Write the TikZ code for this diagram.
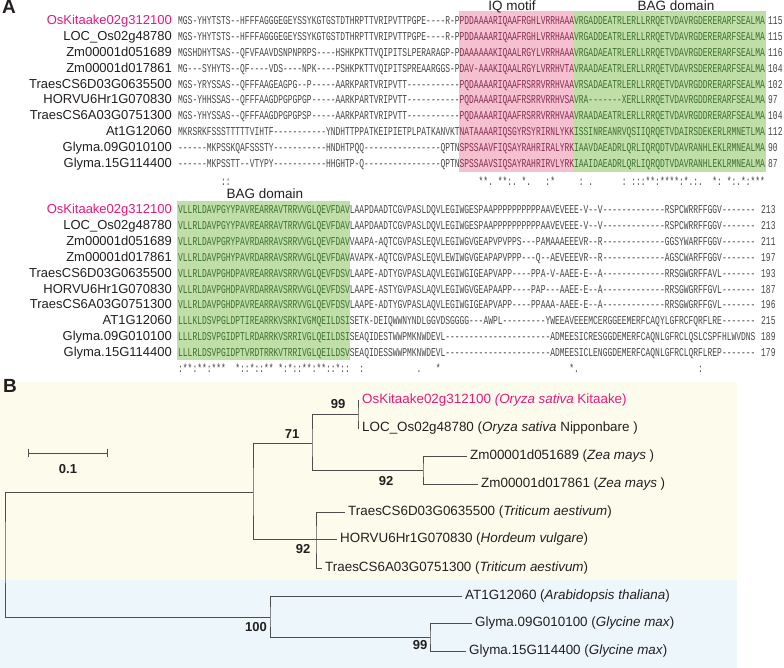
\documentclass[tikz,border=0pt]{standalone}
\usepackage{fontspec}
\setmainfont{Liberation Sans}
\newfontfamily\seqfont[FakeStretch=0.6625]{Liberation Mono}
\usetikzlibrary{arrows.meta}

\definecolor{kitaake}{HTML}{E6197E}
\definecolor{inkgray}{HTML}{231F20}
\definecolor{seqgray}{HTML}{474747}
\definecolor{iqtext}{HTML}{862F52}
\definecolor{bagtext}{HTML}{3F7030}
\definecolor{iqfill}{HTML}{F5C0D0}
\definecolor{bagfill}{HTML}{BFDEA8}
\definecolor{cream}{HTML}{FDFCEC}
\definecolor{skyfill}{HTML}{EDF6FB}
\definecolor{treeline}{HTML}{4D4D4D}

\newcommand\cw{4.77}
\newcommand\iq[1]{\textcolor{iqtext}{#1}}
\newcommand\bag[1]{\textcolor{bagtext}{#1}}
\newcommand\gapfill{\spaceskip=\fontcharwd\font`\*\relax}

\begin{document}
\begin{tikzpicture}[x=1pt,y=-1pt,
  genename/.style={anchor=base east,inner sep=0pt,font=\fontsize{13}{15}\selectfont,text=inkgray},
  seqtext/.style={anchor=base west,inner sep=0pt,font=\fontsize{12}{12}\seqfont,text=seqgray},
  domainname/.style={anchor=base,inner sep=0pt,font=\fontsize{13.5}{15}\selectfont,text=inkgray},
  panel/.style={anchor=base west,inner sep=0pt,font=\fontsize{19}{21}\selectfont\bfseries,text=inkgray},
  leaf/.style={anchor=west,inner sep=3pt,font=\fontsize{13.4}{15}\selectfont,text=inkgray},
  boot/.style={inner sep=0pt,font=\fontsize{13}{15}\selectfont\bfseries,text=inkgray},
  branch/.style={draw=treeline,line width=0.9pt}]
\useasboundingbox (0,0) rectangle (784,668);
\fill[white] (0,0) rectangle (784,668);

\fill[iqfill] ({178+59*\cw},11) rectangle ({178+83*\cw},172);
\fill[bagfill] ({178+83*\cw},11) rectangle ({178+123*\cw+1},172);
\fill[bagfill] (177,201) rectangle ({178+36*\cw},360);
\fill[cream] (0,382) rectangle (737,580);
\fill[skyfill] (0,580) rectangle (737,668);

\node[panel] (pa) at (2,14) {A};
\node[domainname] (iqm) at (512,11) {IQ motif};
\node[domainname] (bag1) at (676,11) {BAG domain};

\node[genename,text=kitaake] (na1) at (172,25.0) {OsKitaake02g312100};
\node[genename] (na2) at (172,40.8) {LOC\_Os02g48780};
\node[genename] (na3) at (172,56.6) {Zm00001d051689};
\node[genename] (na4) at (172,72.4) {Zm00001d017861};
\node[genename] (na5) at (172,88.2) {TraesCS6D03G0635500};
\node[genename] (na6) at (172,104.0) {HORVU6Hr1G070830};
\node[genename] (na7) at (172,119.8) {TraesCS6A03G0751300};
\node[genename] (na8) at (172,135.6) {At1G12060};
\node[genename] (na9) at (172,151.4) {Glyma.09G010100};
\node[genename] (na10) at (172,167.2) {Glyma.15G114400};

\node[seqtext] (sa1) at (178,25.0) {MGS-YHYTSTS--HFFFAGGGEGEYSSYKGTGSTDTHRPTTVRIPVTTPGPE----R-P\iq{PDDAAAARIQAAFRGHLVRRHAAA}\bag{VRGADDEATRLERLLRRQETVDAVRGDERERARFSEALMA}};
\node[seqtext] (sa2) at (178,40.8) {MGS-YHYTSTS--HFFFAGGGEGEYSSYKGTGSTDTHRPTTVRIPVTTPGPE----R-P\iq{PDDAAAARIQAAFRGHLVRRHAAA}\bag{VRGADDEATRLERLLRRQETVDAVRGDERERARFSEALMA}};
\node[seqtext] (sa3) at (178,56.6) {MGSHDHYTSAS--QFVFAAVDSNPNPRPS----HSHKPKTTVQIPITSLPERARAGP-P\iq{DAAAAAAKIQAALRGYLVRRHAAA}\bag{VRGADAEATRLERLLRRQETVDAVRGDERERARFSEALMA}};
\node[seqtext] (sa4) at (178,72.4) {MG---SYHYTS--QF----VDS----NPK----PSHKPKTTVQIPITSPREAARGGS-P\iq{DAV-AAAKIQAALRGYLVRRHVTA}\bag{VRAADAEATRLERLLRRQETVDAVRSDERERARFSEALMA}};
\node[seqtext] (sa5) at (178,88.2) {MGS-YRYSSAS--QFFFAAGEAGPG--P-----AARKPARTVRIPVTT-----------\iq{PQDAAAARIQAAFRSRRVRRHVAA}\bag{VRSADAEATRLERLLRRQETVDAVRGDDRERARFSEALMA}};
\node[seqtext] (sa6) at (178,104.0) {MGS-YHHSSAS--QFFFAAGDPGPGPGP-----AARKPARTVRIPVTT-----------\iq{PQDAAAARIQAAFRSRRVRRHVSA}\bag{VRA-------XERLLRRQETVDAVRGDDRERARFSEALMA}};
\node[seqtext] (sa7) at (178,119.8) {MGS-YHYSSAS--QFFFAAGDPGPGPSP-----AARKPARTVRIPVTT-----------\iq{PQDAAAARIQAAFRSRRVRRHVAA}\bag{VRAADAEATRLERLLRRQETVDAVRGDDRERARFSEALMA}};
\node[seqtext] (sa8) at (178,135.6) {MKRSRKFSSSTTTTTVIHTF-----------YNDHTTPPATKEIPIETPLPATKANVKT\iq{NATAAAARIQSGYRSYRIRNLYKK}\bag{ISSINREANRVQSIIQRQETVDAIRSDEKERLRMNETLMA}};
\node[seqtext] (sa9) at (178,151.4) {------MKPSSKQAFSSSTY-----------HNDHTPQQ----------------QPTN\iq{SPSSAAVFIQSAYRAHRIRALYRK}\bag{IAAVDAEADRLQRLIQRQDTVDAVRANHLEKLRMNEALMA}};
\node[seqtext] (sa10) at (178,167.2) {------MKPSSTT--VTYPY-----------HHGHTP-Q----------------QPTN\iq{SPSSAAVSIQSAYRAHRIRVLYRK}\bag{IAAIDAEADRLQRLIQRQDTVDAVRANHLEKLRMNEALMA}};

\node[seqtext] (la1) at (768,25.0) {115};
\node[seqtext] (la2) at (768,40.8) {115};
\node[seqtext] (la3) at (768,56.6) {116};
\node[seqtext] (la4) at (768,72.4) {104};
\node[seqtext] (la5) at (768,88.2) {102};
\node[seqtext] (la6) at (768,104.0) {97};
\node[seqtext] (la7) at (768,119.8) {104};
\node[seqtext] (la8) at (768,135.6) {112};
\node[seqtext] (la9) at (768,151.4) {90};
\node[seqtext] (la10) at (768,167.2) {87};

\node[seqtext] (c1a) at ({178+9*\cw},186) {::};
\node[seqtext] (c1b) at ({178+63*\cw},186) {\gapfill **.~**:.~*.~~~:*~~~~~:~.~~~~~~:~:::**:****:*.:.~~*:~*:.*:***};

\node[domainname] (bag2) at (265,199) {BAG domain};

\node[genename,text=kitaake] (nb1) at (172,213.5) {OsKitaake02g312100};
\node[genename] (nb2) at (172,229.4) {LOC\_Os02g48780};
\node[genename] (nb3) at (172,245.3) {Zm00001d051689};
\node[genename] (nb4) at (172,261.2) {Zm00001d017861};
\node[genename] (nb5) at (172,277.1) {TraesCS6D03G0635500};
\node[genename] (nb6) at (172,293.0) {HORVU6Hr1G070830};
\node[genename] (nb7) at (172,308.9) {TraesCS6A03G0751300};
\node[genename] (nb8) at (172,324.8) {AT1G12060};
\node[genename] (nb9) at (172,340.7) {Glyma.09G010100};
\node[genename] (nb10) at (172,356.6) {Glyma.15G114400};

\node[seqtext] (sb1) at (178,213.5) {\bag{VLLRLDAVPGYYPAVREARRAVTRRVVGLQEVFDAV}LAAPDAADTCGVPASLDQVLEGIWGESPAAPPPPPPPPPPAAVEVEEE-V--V-------------RSPCWRRFFGGV-------};
\node[seqtext] (sb2) at (178,229.4) {\bag{VLLRLDAVPGYYPAVREARRAVTRRVVGLQEVFDAV}LAAPDAADTCGVPASLDQVLEGIWGESPAAPPPPPPPPPPAAVEVEEE-V--V-------------RSPCWRRFFGGV-------};
\node[seqtext] (sb3) at (178,245.3) {\bag{VLLRLDAVPGRYPAVRDARRAVSRRVVGLQEVFDAV}VAAPA-AQTCGVPASLEQVLEGIWGVGEAPVPVPPS---PAMAAAEEEVR--R-------------GGSYWARFFGGV-------};
\node[seqtext] (sb4) at (178,261.2) {\bag{VLLRLDAVPGHYPAVRDARRAVSRRVVGLQEVFDAV}AVAPK-AQTCGVPASLEQVLEWIWGVGEAPAPVPPP---Q--AEVEEEVR--R-------------AGSCWARFFGGV-------};
\node[seqtext] (sb5) at (178,277.1) {\bag{VLLRLDAVPGHDPAVREARRAVSRRVVGLQEVFDSV}LAAPE-ADTYGVPASLAQVLEGIWGIGEAPVAPP----PPA-V-AAEE-E--A-------------RRSGWGRFFAVL-------};
\node[seqtext] (sb6) at (178,293.0) {\bag{VLLRLDAVPGHDPAVRDARRAVSRRVVGLQEVFDSV}LAAPE-ASTYGVPASLAQVLEGIWGVGEAPAAPP----PAP---AAEE-E--A-------------RRSGWGRFFGVL-------};
\node[seqtext] (sb7) at (178,308.9) {\bag{VLLRLDAVPGHDPAVREARRAVSRRVVGLQEVFDSV}LAAPE-ADTYGVPASLAQVLEGIWGIGEAPVAPP----PPAAA-AAEE-E--A-------------RRSGWGRFFGVL-------};
\node[seqtext] (sb8) at (178,324.8) {\bag{LLLKLDSVPGLDPTIREARRKVSRKIVGMQEILDSI}SETK-DEIQWWNYNDLGGVDSGGGG---AWPL---------YWEEAVEEEMCERGGEEMERFCAQYLGFRCFQRFLRE-------};
\node[seqtext] (sb9) at (178,340.7) {\bag{LLLRLDSVPGIDPTLRDARRKVSRRIVGLQEILDSI}SEAQIDESTWWPMKNWDEVL----------------------ADMEESICRESGGDEMERFCAQNLGFRCLQSLCSPFHLWVDNS};
\node[seqtext] (sb10) at (178,356.6) {\bag{LLLRLDSVPGIDPTVRDTRRKVTRRIVGLQEILDSV}SEAQIDESSWWPMKNWDEVL----------------------ADMEESICLENGGDEMERFCAQNLGFRCLQRFLREP-------};

\node[seqtext] (lb1) at (761,213.5) {213};
\node[seqtext] (lb2) at (761,229.4) {213};
\node[seqtext] (lb3) at (761,245.3) {211};
\node[seqtext] (lb4) at (761,261.2) {197};
\node[seqtext] (lb5) at (761,277.1) {193};
\node[seqtext] (lb6) at (761,293.0) {187};
\node[seqtext] (lb7) at (761,308.9) {196};
\node[seqtext] (lb8) at (761,324.8) {215};
\node[seqtext] (lb9) at (761,340.7) {189};
\node[seqtext] (lb10) at (761,356.6) {179};

\node[seqtext] (c2a) at (178,372) {\gapfill :**:**:***~~*::*::**~*:*::**:**::*::~~:};
\node[seqtext] (c2b) at ({178+50*\cw},372) {.};
\node[seqtext] (c2c) at ({178+54*\cw},372) {*};
\node[seqtext] (c2d) at ({178+82*\cw},372) {*.};
\node[seqtext] (c2e) at ({178+109*\cw},372) {:};

\node[panel] (pb) at (3,392) {B};

\coordinate (sl) at (28,453);
\coordinate (sr) at (108,453);
\draw[branch,{Bar[width=8pt]}-{Bar[width=8pt]}] (sl) -- (sr);
\node[boot] (scale) at (68,469) {0.1};

\node[leaf,text=kitaake] (os) at (359,400) {OsKitaake02g312100 \textit{(Oryza sativa} Kitaake)};
\node[leaf] (loc) at (359,428) {LOC\_Os02g48780 (\textit{Oryza sativa} Nipponbare )};
\node[leaf] (zma) at (467,456) {Zm00001d051689 (\textit{Zea mays} )};
\node[leaf] (zmb) at (478,484) {Zm00001d017861 (\textit{Zea mays} )};
\node[leaf] (tad) at (345,512) {TraesCS6D03G0635500 (\textit{Triticum aestivum})};
\node[leaf] (hv) at (337,539) {HORVU6Hr1G070830 (\textit{Hordeum vulgare})};
\node[leaf] (taa) at (322,568) {TraesCS6A03G0751300 (\textit{Triticum aestivum})};
\node[leaf] (at) at (462,596) {AT1G12060 (\textit{Arabidopsis thaliana})};
\node[leaf] (gma) at (472,623) {Glyma.09G010100 (\textit{Glycine max})};
\node[leaf] (gmb) at (466,651) {Glyma.15G114400 (\textit{Glycine max})};

\coordinate (n99) at (358,414);
\coordinate (n71) at (312,443);
\coordinate (nz) at (423,470);
\coordinate (ny) at (253,492);
\coordinate (nt) at (316,539);
\coordinate (nb) at (270,617);
\coordinate (ng) at (430,637);
\coordinate (root) at (5,550);

\draw[branch] (os.west) -| (n99) |- (loc.west);
\draw[branch] (n99) -| (n71) |- (nz);
\draw[branch] (zma.west) -| (nz) |- (zmb.west);
\draw[branch] (n71) -| (ny) |- (nt);
\draw[branch] (tad.west) -| (nt) |- (taa.west);
\draw[branch] (nt) -- (hv.west);
\draw[branch] (ny) -| (root) |- (nb);
\draw[branch] (at.west) -| (nb) |- (ng);
\draw[branch] (gma.west) -| (ng) |- (gmb.west);

\node[boot] (b99a) at (338,404) {99};
\node[boot] (b71) at (292,434) {71};
\node[boot] (b92a) at (386,481) {92};
\node[boot] (b92b) at (303,549) {92};
\node[boot] (b100) at (256,627) {100};
\node[boot] (b99b) at (420,645) {99};
\end{tikzpicture}
\end{document}
